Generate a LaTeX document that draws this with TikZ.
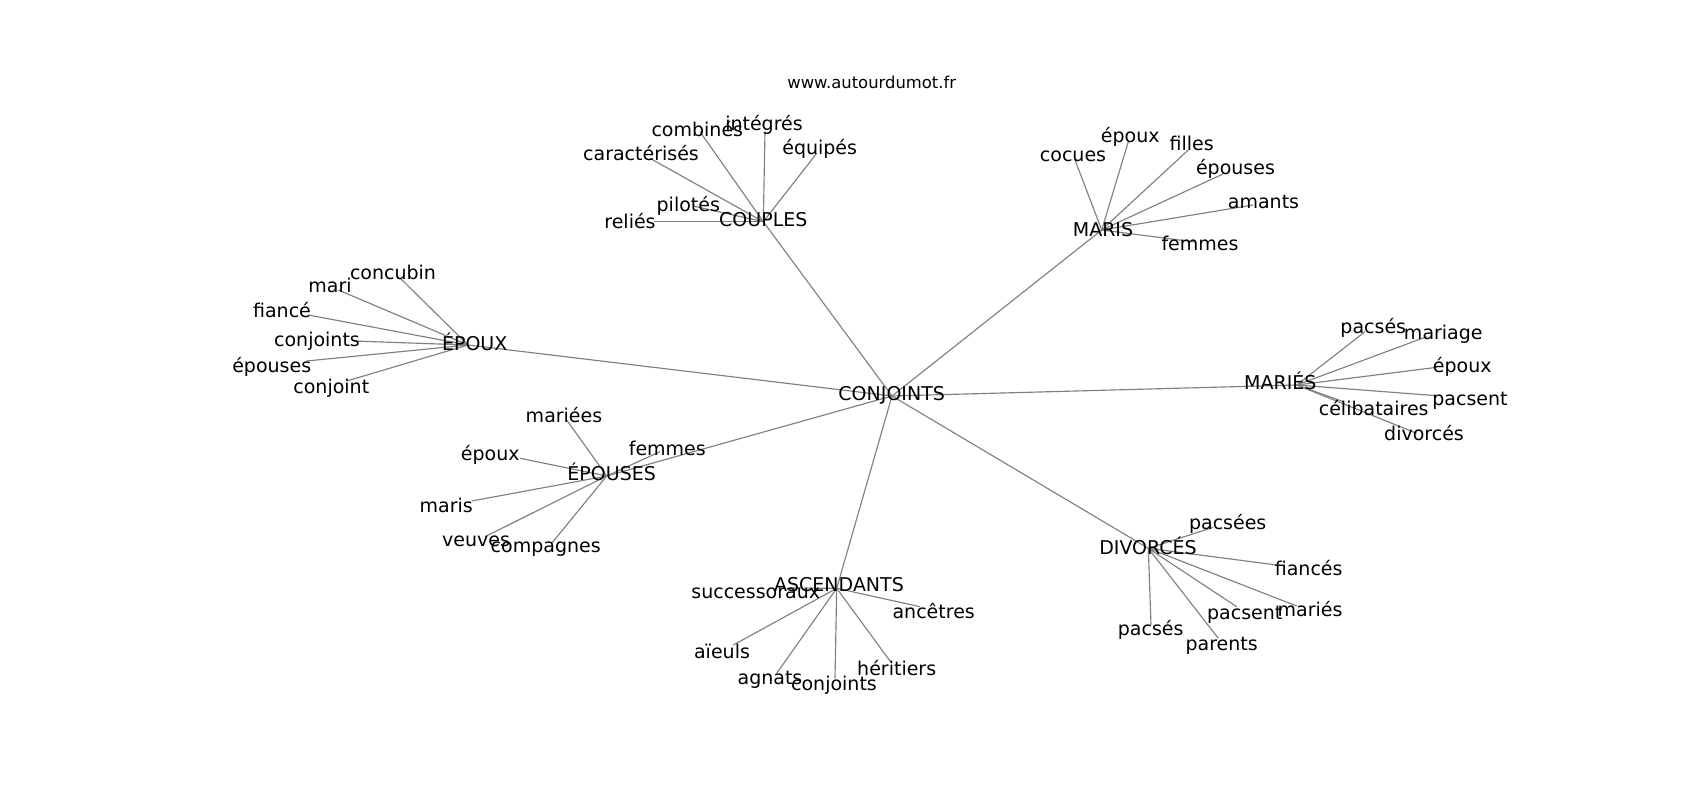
\documentclass[tikz,border=0pt]{standalone}
\usepackage{fontspec}
\setmainfont{DejaVu Sans}
\tikzset{
  lbl/.style={inner sep=0pt, text height=0.76em, text depth=0pt, anchor=center, yshift=-3.5pt, font=\fontsize{19}{22}\selectfont, text=black},
  ttl/.style={inner sep=0pt, text height=0.76em, text depth=0pt, anchor=center, yshift=-1.5pt, font=\fontsize{16.4}{19}\selectfont, text=black},
  edge/.style={draw=gray, line width=1.15pt}
}
\begin{document}
\begin{tikzpicture}[x=1pt,y=-1pt]
\useasboundingbox (0,0) rectangle (1700,800);
% hubs
\coordinate (hConj) at (892,396);
\coordinate (hCoup) at (763.3,221.7);
\coordinate (hMaris) at (1101.7,230);
\coordinate (hEpoux) at (468,345);
\coordinate (hMaries) at (1296.7,385);
\coordinate (hEpouses) at (606.7,476);
\coordinate (hDiv) at (1148.3,548.3);
\coordinate (hAsc) at (836.7,588.3);
% leaf ends
\coordinate (eC1) at (654,221.7);
\coordinate (eC2) at (693,206);
\coordinate (eC3) at (650,158.3);
\coordinate (eC4) at (700,131.7);
\coordinate (eC5) at (765,131.7);
\coordinate (eC6) at (816.7,153.3);
\coordinate (eM1) at (1075,160);
\coordinate (eM2) at (1128.3,141.7);
\coordinate (eM3) at (1188.3,150);
\coordinate (eM4) at (1223,174);
\coordinate (eM5) at (1253,205);
\coordinate (eM6) at (1195,242);
\coordinate (eX1) at (400,278);
\coordinate (eX2) at (338.3,290);
\coordinate (eX3) at (308.3,315);
\coordinate (eX4) at (353.3,341);
\coordinate (eX5) at (306.7,361);
\coordinate (eX6) at (346.7,381);
\coordinate (eR1) at (1365,331.7);
\coordinate (eR2) at (1426.7,336.7);
\coordinate (eR3) at (1436.7,367.3);
\coordinate (eR4) at (1436.7,395.7);
\coordinate (eR5) at (1343.3,401.7);
\coordinate (eR6) at (1416.7,433.3);
\coordinate (eS1) at (566.7,420);
\coordinate (eS2) at (660,451.7);
\coordinate (eS3) at (520,458.3);
\coordinate (eS4) at (471.7,501);
\coordinate (eS5) at (485,536.7);
\coordinate (eS6) at (551.7,543.3);
\coordinate (eD1) at (1213.3,527.3);
\coordinate (eD2) at (1276.7,565);
\coordinate (eD3) at (1296.7,606);
\coordinate (eD4) at (1236.7,606.7);
\coordinate (eD5) at (1151,625);
\coordinate (eD6) at (1218.3,638.3);
\coordinate (eA1) at (790,588);
\coordinate (eA2) at (920,606.7);
\coordinate (eA3) at (733.3,645);
\coordinate (eA4) at (776.7,673.3);
\coordinate (eA5) at (835,678.3);
\coordinate (eA6) at (891.7,663.3);
% edges
\foreach \h in {hCoup,hMaris,hEpoux,hMaries,hEpouses,hDiv,hAsc} \draw[edge] (hConj) -- (\h);
\foreach \i in {1,...,6} {
  \draw[edge] (hCoup) -- (eC\i);
  \draw[edge] (hMaris) -- (eM\i);
  \draw[edge] (hEpoux) -- (eX\i);
  \draw[edge] (hMaries) -- (eR\i);
  \draw[edge] (hEpouses) -- (eS\i);
  \draw[edge] (hDiv) -- (eD\i);
  \draw[edge] (hAsc) -- (eA\i);
}
% labels
\node[ttl] (title) at (871.7,83.3) {www.autourdumot.fr};
\node[lbl] (tConj) at (891.7,393.3) {CONJOINTS};
\node[lbl] (tCoup) at (763.3,219.3) {COUPLES};
\node[lbl] (tC1) at (630,220.7) {reliés};
\node[lbl] (tC2) at (688.3,204) {pilotés};
\node[lbl] (tC3) at (641,152.7) {caractérisés};
\node[lbl] (tC4) at (697.3,129) {combinés};
\node[lbl] (tC5) at (764,123.3) {intégrés};
\node[lbl] (tC6) at (819.7,146.7) {équipés};
\node[lbl] (tMaris) at (1103,229.3) {MARIS};
\node[lbl] (tM1) at (1073,154.3) {cocues};
\node[lbl] (tM2) at (1130.3,135) {époux};
\node[lbl] (tM3) at (1191.7,143.3) {filles};
\node[lbl] (tM4) at (1235.5,167.3) {épouses};
\node[lbl] (tM5) at (1263.5,201) {amants};
\node[lbl] (tM6) at (1200,243.3) {femmes};
\node[lbl] (tEpoux) at (474.7,343) {ÉPOUX};
\node[lbl] (tX1) at (393,271.7) {concubin};
\node[lbl] (tX2) at (330,285) {mari};
\node[lbl] (tX3) at (282,310) {fiancé};
\node[lbl] (tX4) at (317,339.3) {conjoints};
\node[lbl] (tX5) at (271.7,365) {épouses};
\node[lbl] (tX6) at (331.3,386) {conjoint};
\node[lbl] (tMaries) at (1280.3,381.7) {MARIÉS};
\node[lbl] (tR1) at (1373.3,325.7) {pacsés};
\node[lbl] (tR2) at (1443.3,331.7) {mariage};
\node[lbl] (tR3) at (1462.3,365) {époux};
\node[lbl] (tR4) at (1470,398.3) {pacsent};
\node[lbl] (tR5) at (1373.7,408.3) {célibataires};
\node[lbl] (tR6) at (1424,433.3) {divorcés};
\node[lbl] (tEpouses) at (611.7,472.7) {ÉPOUSES};
\node[lbl] (tS1) at (564,415) {mariées};
\node[lbl] (tS2) at (667.3,448.3) {femmes};
\node[lbl] (tS3) at (490.3,452.7) {époux};
\node[lbl] (tS4) at (446.3,505) {maris};
\node[lbl] (tS5) at (476,539) {veuves};
\node[lbl] (tS6) at (545.7,545) {compagnes};
\node[lbl] (tDiv) at (1148,546.7) {DIVORCÉS};
\node[lbl] (tD1) at (1227.7,521.7) {pacsées};
\node[lbl] (tD2) at (1308.7,568.3) {fiancés};
\node[lbl] (tD3) at (1310,609) {mariés};
\node[lbl] (tD4) at (1244.7,611.7) {pacsent};
\node[lbl] (tD5) at (1150.7,628.3) {pacsés};
\node[lbl] (tD6) at (1221.7,642.7) {parents};
\node[lbl] (tAsc) at (839,584) {ASCENDANTS};
\node[lbl] (tA1) at (755.7,590.7) {successoraux};
\node[lbl] (tA2) at (933.7,610.7) {ancêtres};
\node[lbl] (tA3) at (722,650.7) {aïeuls};
\node[lbl] (tA4) at (770,676.7) {agnats};
\node[lbl] (tA5) at (834,683.3) {conjoints};
\node[lbl] (tA6) at (896.7,668.3) {héritiers};
\end{tikzpicture}
\end{document}
